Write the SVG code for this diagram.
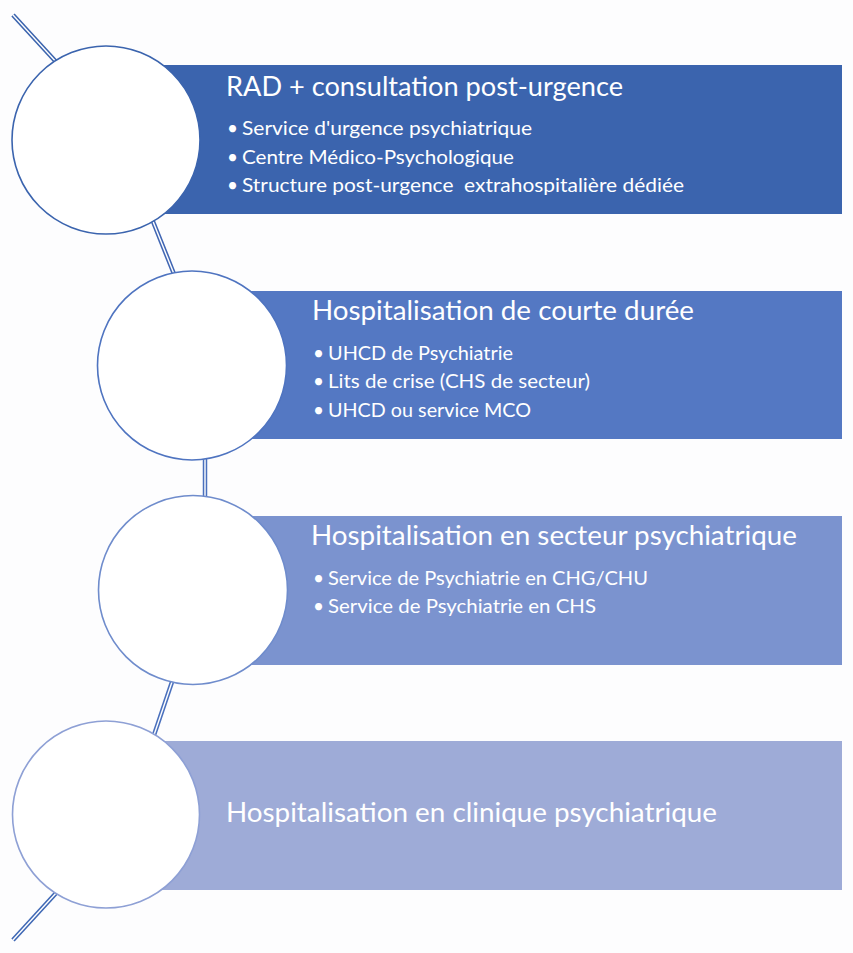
<svg xmlns="http://www.w3.org/2000/svg" width="853" height="953" viewBox="0 0 853 953">
<style>
.outer{fill:none;stroke-width:4.5;stroke-linecap:butt}
.inner{fill:none;stroke:#ffffff;stroke-width:1.4}
.circ{fill:#ffffff;stroke-width:1.6}
.t{font-family:Lato,"Liberation Sans",sans-serif;fill:#ffffff;white-space:pre}
.h{font-size:27px}
.b{font-size:19px}
</style>
<rect width="853" height="953" fill="#fdfdfe"/>
<g id="connectors">
  <path id="c1" class="outer" stroke="#3b64ae" d="M13,15 L58,64"/>
  <path class="inner" d="M13,15 L58,64"/>
  <path id="c2" class="outer" stroke="#4066b3" d="M152,219 L174,274"/>
  <path class="inner" d="M152,219 L174,274"/>
  <path id="c3" class="outer" stroke="#4a70bd" d="M205,456 L205,499"/>
  <path class="inner" d="M205,456 L205,499"/>
  <path id="c4" class="outer" stroke="#4a70bd" d="M173,679 L154,735"/>
  <path class="inner" d="M173,679 L154,735"/>
  <path id="c5" class="outer" stroke="#3f68b5" d="M57,892 L13,940"/>
  <path class="inner" d="M57,892 L13,940"/>
</g>
<g id="node1">
  <rect x="106" y="65" width="736" height="149" fill="#3b64ae"/>
  <circle class="circ" cx="106" cy="140" r="94" stroke="#3b64ae"/>
  <text class="t h" x="226" y="96" textLength="397" lengthAdjust="spacingAndGlyphs">RAD + consultation post-urgence</text>
  <text class="t b" x="227" y="135">•</text>
  <text class="t b" x="242" y="135" textLength="290" lengthAdjust="spacingAndGlyphs">Service d'urgence psychiatrique</text>
  <text class="t b" x="227" y="164">•</text>
  <text class="t b" x="242" y="164" textLength="272" lengthAdjust="spacingAndGlyphs">Centre Médico-Psychologique</text>
  <text class="t b" x="227" y="192">•</text>
  <text class="t b" x="242" y="192" textLength="442" lengthAdjust="spacingAndGlyphs">Structure post-urgence&#160; extrahospitalière dédiée</text>
</g>
<g id="node2">
  <rect x="192" y="291" width="650" height="148" fill="#5478c3"/>
  <circle class="circ" cx="192" cy="365.5" r="94.5" stroke="#4f74c0"/>
  <text class="t h" x="312" y="320" textLength="382" lengthAdjust="spacingAndGlyphs">Hospitalisation de courte durée</text>
  <text class="t b" x="313" y="360">•</text>
  <text class="t b" x="328" y="360" textLength="185" lengthAdjust="spacingAndGlyphs">UHCD de Psychiatrie</text>
  <text class="t b" x="313" y="388">•</text>
  <text class="t b" x="328" y="388" textLength="262" lengthAdjust="spacingAndGlyphs">Lits de crise (CHS de secteur)</text>
  <text class="t b" x="313" y="417">•</text>
  <text class="t b" x="328" y="417" textLength="203" lengthAdjust="spacingAndGlyphs">UHCD ou service MCO</text>
</g>
<g id="node3">
  <rect x="193" y="516" width="649" height="149" fill="#7b93cf"/>
  <circle class="circ" cx="193" cy="590" r="94.5" stroke="#6f8ccc"/>
  <text class="t h" x="311" y="545" textLength="486" lengthAdjust="spacingAndGlyphs">Hospitalisation en secteur psychiatrique</text>
  <text class="t b" x="313" y="585">•</text>
  <text class="t b" x="328" y="585" textLength="320" lengthAdjust="spacingAndGlyphs">Service de Psychiatrie en CHG/CHU</text>
  <text class="t b" x="313" y="613">•</text>
  <text class="t b" x="328" y="613" textLength="268" lengthAdjust="spacingAndGlyphs">Service de Psychiatrie en CHS</text>
</g>
<g id="node4">
  <rect x="106" y="741" width="736" height="149" fill="#9eabd7"/>
  <circle class="circ" cx="106" cy="814.5" r="93.5" stroke="#8ea0d5"/>
  <text class="t h" x="226" y="822" textLength="491" lengthAdjust="spacingAndGlyphs">Hospitalisation en clinique psychiatrique</text>
</g>
</svg>
